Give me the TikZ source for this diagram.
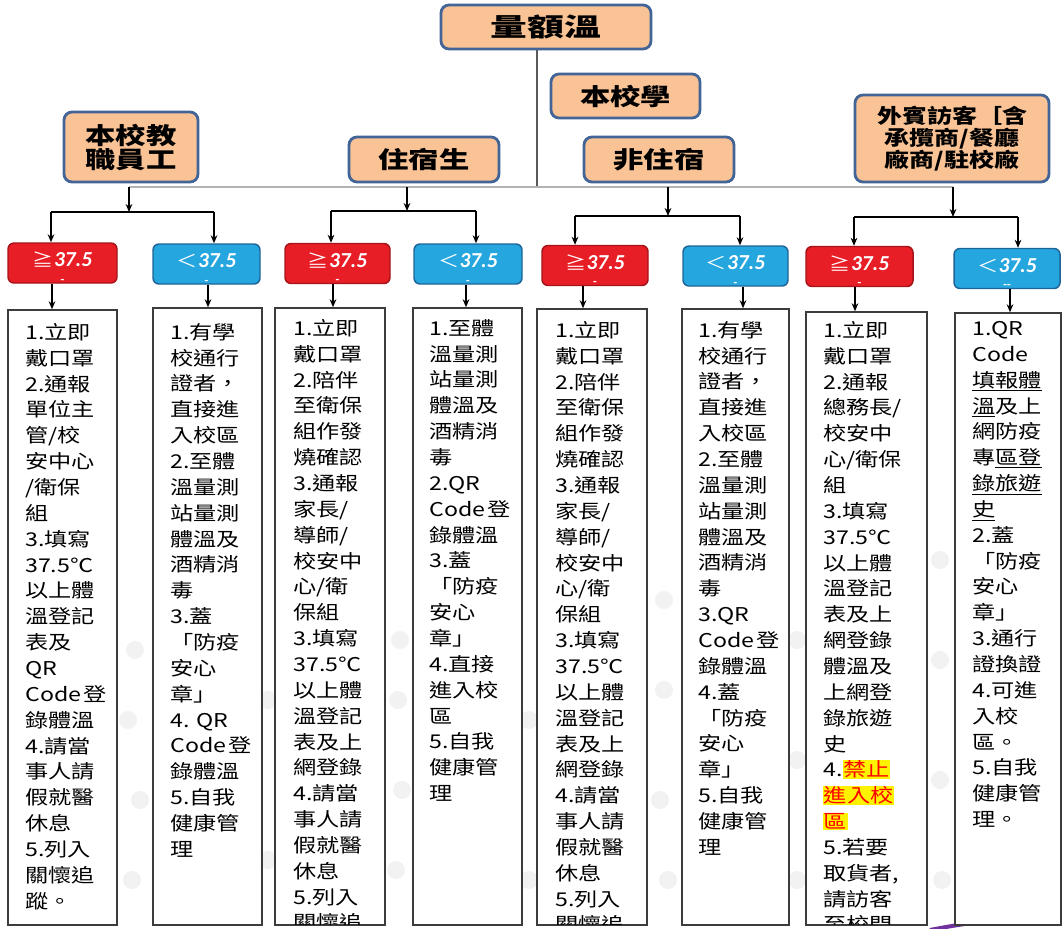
\documentclass[tikz,border=0pt]{standalone}
\usepackage{fontspec}
\usetikzlibrary{arrows.meta}
\setmainfont{Noto Sans CJK TC}
\newfontfamily\fbody[FakeStretch=1.22]{Noto Sans CJK TC}
\newfontfamily\fcat[FakeStretch=1.3]{Noto Sans CJK TC}
\newfontfamily\ftop[FakeStretch=1.45]{Noto Sans CJK TC}
\newfontfamily\fvis[FakeStretch=1.25]{Noto Sans CJK TC}
\newfontfamily\fbadge{Carlito}
\definecolor{catfill}{RGB}{250,195,150}
\definecolor{catline}{RGB}{66,100,150}
\definecolor{redfill}{RGB}{232,30,38}
\definecolor{redline}{RGB}{165,20,26}
\definecolor{bluefill}{RGB}{38,166,222}
\definecolor{blueline}{RGB}{30,100,150}
\definecolor{boxline}{RGB}{60,60,60}
\definecolor{deco}{RGB}{112,48,160}
\newcommand{\hl}[1]{{\setlength{\fboxsep}{0.5pt}\colorbox{yellow}{\textcolor{red}{#1}}}}
\newcommand{\hot}{\rule{0pt}{17.75pt}{\fbody\fontsize{13}{13}\selectfont ≧}{\bfseries\itshape 37.5}\\{\fontsize{9}{9}\selectfont\bfseries -}}
\newcommand{\cool}[1]{\rule{0pt}{17.75pt}{\fbody\fontsize{13}{13}\selectfont ＜}{\bfseries\itshape 37.5}\\{\fontsize{9}{9}\selectfont\bfseries #1}}
\newcommand{\cd}{Code\hspace{1.5pt}登}
\begin{document}
\begin{tikzpicture}[x=0.75pt,y=-0.75pt,
  cat/.style 2 args={draw=catline, fill=catfill, line width=2.1pt, rounded corners=6pt,
     inner sep=0pt, align=center, minimum width={0.75pt*#1}, minimum height={0.75pt*#2}},
  badge/.style 2 args={rounded corners=4.5pt, line width=1.1pt, inner sep=0pt, text=white,
     align=center, minimum width={0.75pt*#1}, minimum height={0.75pt*#2},
     font=\fbadge\fontsize{16}{12.25}\selectfont},
  redbadge/.style={badge={#1}{38}, fill=redfill, draw=redline},
  bluebadge/.style={badge={#1}{38}, fill=bluefill, draw=blueline},
  tbox/.style 2 args={draw=boxline, fill=white, line width=1.1pt, inner sep=0pt,
     minimum width={0.75pt*#1}, minimum height={0.75pt*#2}},
  txt/.style={anchor=north west, inner sep=0pt, align=left,
     font=\fbody\fontsize{14.25}{19.39}\selectfont},
  arr/.style={-{Stealth[length=6pt,width=5pt]}, line width=1.1pt, black},
  trunk/.style={line width=1.1pt, draw=gray!70!black},
  bus/.style={line width=0.8pt, draw=gray!60},
  grp/.style={line width=1.1pt, draw=black},
  dot/.style={fill=gray!10, draw=none}
]
\useasboundingbox (0,0) rectangle (1062,928);

% faint background dots
\foreach \p in {(135,650),(128,720),(140,800),(132,880),(268,700),(268,860),
  (400,640),(398,700),(402,790),(396,870),(529,720),(529,880),(664,600),(664,690),
  (660,800),(668,880),(797,640),(797,760),(797,880),(940,560),(940,660),(940,780),(942,880)}
  \fill[dot] \p circle (9);
% purple decoration
\draw[deco, line width=3pt] (930,930) .. controls (975,921) and (1020,917) .. (1064,915);

% top and category boxes
\node[cat={210}{44}, font=\ftop\bfseries\fontsize{19}{22}\selectfont] (T) at (546,27) {量額溫};
\node[cat={149}{44}, font=\fcat\bfseries\fontsize{17.5}{22}\selectfont] (S) at (625.5,96) {本校學};
\node[cat={134}{70}, font=\fcat\bfseries\fontsize{17.5}{18}\selectfont] (E) at (131,147) {本校教\\職員工};
\node[cat={150}{45}, font=\fcat\bfseries\fontsize{17.5}{22}\selectfont] (D) at (424,159.5) {住宿生};
\node[cat={150}{45}, font=\fcat\bfseries\fontsize{17.5}{22}\selectfont] (N) at (659,159.5) {非住宿};
\node[cat={194}{87}, font=\fvis\bfseries\fontsize{15}{16.5}\selectfont] (V) at (952,138.5) {外賓訪客［含\\承攬商/餐廳\\廠商/駐校廠};

% buses
\coordinate (b0) at (537,187);
\coordinate (d1) at (129,187);
\coordinate (d2) at (407,187);
\coordinate (d3) at (668,187);
\coordinate (d4) at (953,187);
\draw[trunk] (T.south -| b0) -- (b0);
\draw[bus] (d1) -- (d4);

\coordinate (gl1) at (51,212);  \coordinate (gr1) at (214,212);
\coordinate (gl2) at (331,211); \coordinate (gr2) at (476,211);
\coordinate (gl3) at (575,216); \coordinate (gr3) at (740,216);
\coordinate (gl4) at (854,217); \coordinate (gr4) at (1018,217);

% badges
\node[redbadge={109}] (R1) at (62.5,263) {\hot};
\node[bluebadge={107}] (B1) at (206.5,264) {\cool{-}};
\node[redbadge={105}] (R2) at (337.5,263.5) {\hot};
\node[bluebadge={108}] (B2) at (468,264) {\cool{-}};
\node[redbadge={106}] (R3) at (595,265.5) {\hot};
\node[bluebadge={105}] (B3) at (735.5,266) {\cool{-}};
\node[redbadge={107}] (R4) at (859.5,266.5) {\hot};
\node[bluebadge={106}] (B4) at (1007,268.5) {\cool{--}};

\foreach \i/\r/\b in {1/R1/B1,2/R2/B2,3/R3/B3,4/R4/B4}{
  \draw[arr] (d\i) -- (d\i |- gl\i);
  \draw[grp] (gl\i) -- (gr\i);
  \draw[arr] (gl\i) -- (gl\i |- \r.north);
  \draw[arr] (gr\i) -- (gr\i |- \b.north);
}

% text boxes
\node[tbox={109}{615}] (X1) at (62.5,617.5) {};
\node[tbox={109}{617}] (X2) at (207.5,616.5) {};
\node[tbox={110}{617}] (X3) at (330,616.5) {};
\node[tbox={109}{617}] (X4) at (467.5,616.5) {};
\node[tbox={110}{616}] (X5) at (592,617) {};
\node[tbox={107}{616}] (X6) at (735.5,617) {};
\node[tbox={121}{613}] (X7) at (866.5,618.5) {};
\node[tbox={106}{612}] (X8) at (1008,619) {};

\coordinate (o1) at (52,0);  \coordinate (o2) at (208,0);
\coordinate (o3) at (333,0); \coordinate (o4) at (466,0);
\coordinate (o5) at (583,0); \coordinate (o6) at (743,0);
\coordinate (o7) at (855,0); \coordinate (o8) at (1010,0);
\foreach \i/\r in {1/R1,2/B1,3/R2,4/B2,5/R3,6/B3,7/R4,8/B4}{
  \draw[arr] (\r.south -| o\i) -- (X\i.north -| o\i);
}

% texts
\node[txt] (t1) at (25,323) {1.立即\\戴口罩\\2.通報\\單位主\\管/校\\安中心\\/衛保\\組\\3.填寫\\37.5℃\\以上體\\溫登記\\表及\\QR\\\cd\\錄體溫\\4.請當\\事人請\\假就醫\\休息\\5.列入\\關懷追\\蹤。};
\node[txt] (t2) at (170,323) {1.有學\\校通行\\證者，\\直接進\\入校區\\2.至體\\溫量測\\站量測\\體溫及\\酒精消\\毒\\3.蓋\\「防疫\\安心\\章」\\4. QR\\\cd\\錄體溫\\5.自我\\健康管\\理};
\begin{scope}
\clip ([xshift=1pt,yshift=1pt]X3.south west) rectangle ([xshift=-1pt,yshift=-1pt]X3.north east);
\node[txt] (t3) at (293,319) {1.立即\\戴口罩\\2.陪伴\\至衛保\\組作發\\燒確認\\3.通報\\家長/\\導師/\\校安中\\心/衛\\保組\\3.填寫\\37.5℃\\以上體\\溫登記\\表及上\\網登錄\\4.請當\\事人請\\假就醫\\休息\\5.列入\\關懷追};
\end{scope}
\node[txt] (t4) at (429,319) {1.至體\\溫量測\\站量測\\體溫及\\酒精消\\毒\\2.QR\\\cd\\錄體溫\\3.蓋\\「防疫\\安心\\章」\\4.直接\\進入校\\區\\5.自我\\健康管\\理};
\begin{scope}
\clip ([xshift=1pt,yshift=1pt]X5.south west) rectangle ([xshift=-1pt,yshift=-1pt]X5.north east);
\node[txt] (t5) at (555,321) {1.立即\\戴口罩\\2.陪伴\\至衛保\\組作發\\燒確認\\3.通報\\家長/\\導師/\\校安中\\心/衛\\保組\\3.填寫\\37.5℃\\以上體\\溫登記\\表及上\\網登錄\\4.請當\\事人請\\假就醫\\休息\\5.列入\\關懷追};
\end{scope}
\node[txt] (t6) at (698,321) {1.有學\\校通行\\證者，\\直接進\\入校區\\2.至體\\溫量測\\站量測\\體溫及\\酒精消\\毒\\3.QR\\\cd\\錄體溫\\4.蓋\\「防疫\\安心\\章」\\5.自我\\健康管\\理};
\begin{scope}
\clip ([xshift=1pt,yshift=1pt]X7.south west) rectangle ([xshift=-1pt,yshift=-1pt]X7.north east);
\node[txt] (t7) at (823,321) {1.立即\\戴口罩\\2.通報\\總務長/\\校安中\\心/衛保\\組\\3.填寫\\37.5℃\\以上體\\溫登記\\表及上\\網登錄\\體溫及\\上網登\\錄旅遊\\史\\4.\hl{禁止}\\\hl{進入校}\\\hl{區}\\5.若要\\取貨者,\\請訪客\\至校門};
\end{scope}
\node[txt] (t8) at (972,321) {1.QR\\Code\\\underline{填報體}\\\underline{溫}及上\\網防疫\\專\underline{區登}\\\underline{錄旅遊}\\\underline{史}\\2.蓋\\「防疫\\安心\\章」\\3.通行\\證換證\\4.可進\\入校\\區。\\5.自我\\健康管\\理。};
\end{tikzpicture}
\end{document}
